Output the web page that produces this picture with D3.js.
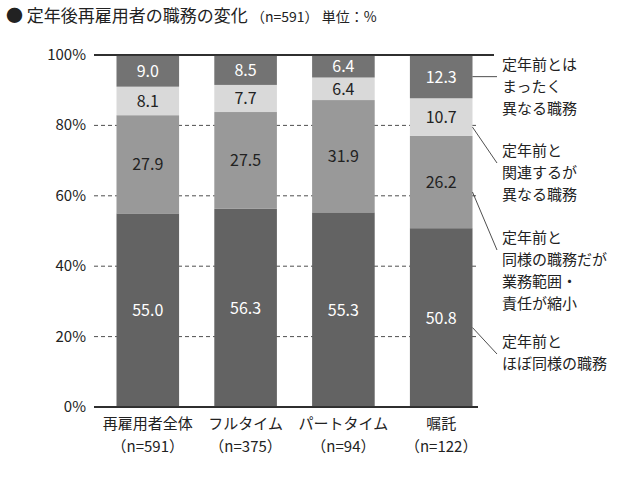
<!DOCTYPE html>
<html><head><meta charset="utf-8">
<script src="https://cdn.jsdelivr.net/npm/d3@7"></script>
<style>body{margin:0;background:#fff}text{font-family:"Noto Sans CJK JP","Noto Sans",sans-serif}</style>
</head><body><svg id="c" width="640" height="488"></svg>
<script>
var categories = ['再雇用者全体', 'フルタイム', 'パートタイム', '嘱託'];
var sampleSizes = ['（n=591）', '（n=375）', '（n=94）', '（n=122）'];
var sameDuty = [55.0, 56.3, 55.3, 50.8];
var reducedScope = [27.9, 27.5, 31.9, 26.2];
var relatedDuty = [8.1, 7.7, 6.4, 10.7];
var differentDuty = [9.0, 8.5, 6.4, 12.3];
var seriesNames = [
  ['定年前と', 'ほぼ同様の職務'],
  ['定年前と', '同様の職務だが', '業務範囲・', '責任が縮小'],
  ['定年前と', '関連するが', '異なる職務'],
  ['定年前とは', 'まったく', '異なる職務']
];
var yTicks = [0, 20, 40, 60, 80, 100];

var svg = d3.select('#c');
var fills = ['#636363', '#999999', '#d9d9d9', '#737373'];
var textFill = ['#fff', '#222', '#222', '#fff'];
var x = d3.scaleBand().domain(categories).range([94, 495]).paddingInner(0.36).paddingOuter(0.23);
var y = d3.scaleLinear().domain([0, 100]).range([407, 55]);

svg.append('text').attr('x', 6).attr('y', 22).attr('font-size', 17).attr('fill', '#222')
  .text('● 定年後再雇用者の職務の変化')
  .append('tspan').attr('font-size', 14).text(' （n=591） 単位：%');

// gridlines
yTicks.forEach(function (t) {
  svg.append('line').attr('x1', 94).attr('x2', t === 100 ? 494 : 478)
    .attr('y1', y(t)).attr('y2', y(t)).attr('stroke', '#222')
    .attr('stroke-width', t === 0 || t === 100 ? 1.5 : 0.8)
    .attr('stroke-dasharray', t === 0 || t === 100 ? null : '4,3');
  svg.append('text').attr('x', 86).attr('y', y(t) + 5).attr('text-anchor', 'end')
    .attr('font-size', 15).attr('fill', '#222').text(t + '%');
});

var data = categories.map(function (c, i) {
  return { cat: c, v: [sameDuty[i], reducedScope[i], relatedDuty[i], differentDuty[i]] };
});
var stack = d3.stack().keys([0, 1, 2, 3]).value(function (d, k) { return d.v[k]; });
var layers = stack(data);
layers.forEach(function (layer, k) {
  layer.forEach(function (seg) {
    var top = Math.min(seg[1], 100);
    svg.append('rect').attr('x', x(seg.data.cat)).attr('width', x.bandwidth())
      .attr('y', y(top)).attr('height', y(seg[0]) - y(top)).attr('fill', fills[k]);
    svg.append('text').attr('x', x(seg.data.cat) + x.bandwidth() / 2)
      .attr('y', y((seg[0] + top) / 2) + 6).attr('text-anchor', 'middle')
      .attr('font-size', 16).attr('fill', textFill[k]).text(seg.data.v[k].toFixed(1));
  });
});
// redraw 100% line over bars
svg.append('line').attr('x1', 94).attr('x2', 494).attr('y1', y(100)).attr('y2', y(100))
  .attr('stroke', '#222').attr('stroke-width', 1.5);
svg.append('line').attr('x1', 94).attr('x2', 478).attr('y1', y(0)).attr('y2', y(0))
  .attr('stroke', '#222').attr('stroke-width', 1.5);

// x labels
categories.forEach(function (c, i) {
  var cx = x(c) + x.bandwidth() / 2;
  svg.append('text').attr('x', cx).attr('y', 429).attr('text-anchor', 'middle')
    .attr('font-size', 15).attr('fill', '#222').text(c);
  svg.append('text').attr('x', cx).attr('y', 452).attr('text-anchor', 'middle')
    .attr('font-size', 15).attr('fill', '#222').text(sampleSizes[i]);
});

// legend with leader lines from last bar
var lastIdx = categories.length - 1;
var bx = x(categories[lastIdx]) + x.bandwidth();
var labelTop = [334, 230, 143, 57];
layers.forEach(function (layer, k) {
  var seg = layer[lastIdx];
  var mid = y((seg[0] + Math.min(seg[1], 100)) / 2);
  var ly = k === 3 ? mid : labelTop[k] + 10;
  svg.append('line').attr('x1', bx).attr('y1', k === 3 ? mid : mid + 10)
    .attr('x2', 497).attr('y2', k === 3 ? mid : ly + 10)
    .attr('stroke', '#222').attr('stroke-width', 0.8);
  seriesNames[k].forEach(function (line, j) {
    svg.append('text').attr('x', 502).attr('y', labelTop[k] + 13 + j * 22)
      .attr('font-size', 15).attr('fill', '#222').text(line);
  });
});
</script></body></html>
